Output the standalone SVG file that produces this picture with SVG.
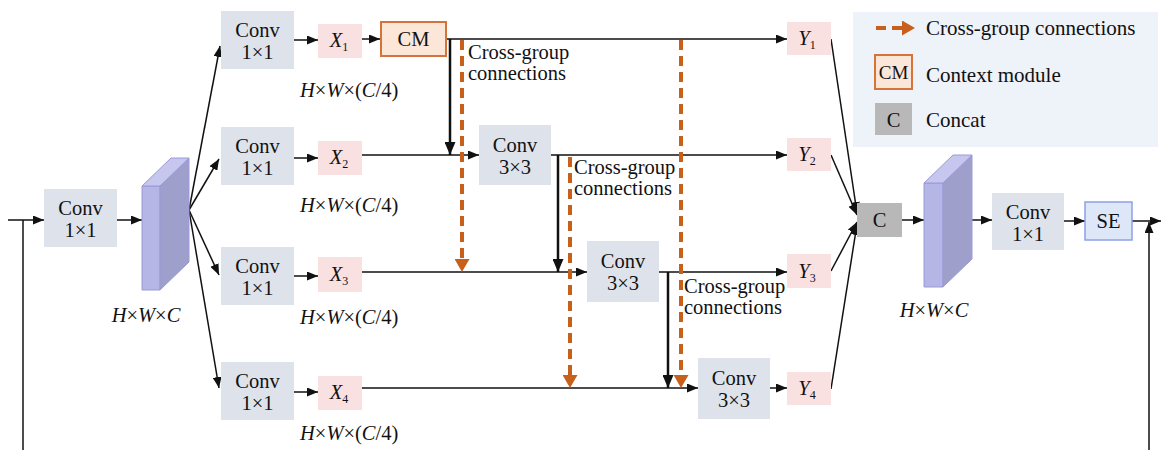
<svg xmlns="http://www.w3.org/2000/svg" width="1161" height="450" viewBox="0 0 1161 450">
<style>
.t{font-family:"Liberation Serif",serif;font-size:20.5px;fill:#111;}
.lg{font-size:21px;}
.c{text-anchor:middle;}
.conv{fill:#dee3eb;}
.pk{fill:#fae1e1;}
.cm{fill:#fce6d8;stroke:#d4743a;stroke-width:2;}
.cc{fill:#b8b8b8;}
.se{fill:#dde7f8;stroke:#8fa0e6;stroke-width:1.5;}
.ln{stroke:#111;stroke-width:1.5;fill:none;marker-end:url(#ah);}
.lnp{stroke:#111;stroke-width:1.5;fill:none;}
.lb{stroke:#111;stroke-width:2.5;fill:none;marker-end:url(#ahb);}
.od{stroke:#c8601c;stroke-width:4;stroke-dasharray:10 6;fill:none;marker-end:url(#oh);}
.sf{fill:#b5b5e6;stroke:#9a9ad8;stroke-width:1;}
.ss{fill:#9f9fcb;stroke:#9a9ad8;stroke-width:1;}
.st{fill:#c6c6ee;stroke:#9a9ad8;stroke-width:1;}
.i{font-style:italic;}
.sub{font-size:12px;}
</style>
<defs>
<marker id="ah" markerUnits="userSpaceOnUse" markerWidth="11" markerHeight="9" refX="11" refY="4.5" orient="auto"><path d="M0,0 L11,4.5 L0,9 z" fill="#111"/></marker>
<marker id="ahb" markerUnits="userSpaceOnUse" markerWidth="13" markerHeight="11" refX="13" refY="5.5" orient="auto"><path d="M0,0 L13,5.5 L0,11 z" fill="#111"/></marker>
<marker id="oh" markerUnits="userSpaceOnUse" markerWidth="13" markerHeight="15" refX="0" refY="7.5" orient="auto"><path d="M0,0 L13,7.5 L0,15 z" fill="#c8601c"/></marker>
</defs>
<rect width="1161" height="450" fill="#fff"/>

<g id="legend">
<rect x="853" y="12" width="305" height="135" fill="#eef2f9"/>
<line x1="876" y1="28" x2="902" y2="28" class="od" stroke-dasharray="9 6"/>
<text x="926" y="35" class="t lg">Cross-group connections</text>
<rect x="875" y="55" width="37" height="34" class="cm"/>
<text x="893.5" y="79" class="t c" style="font-size:19px">CM</text>
<text x="926" y="82" class="t lg">Context module</text>
<rect x="875" y="103" width="37" height="32" class="cc"/>
<text x="893.5" y="127" class="t c">C</text>
<text x="926" y="127" class="t lg">Concat</text>
</g>

<g id="connectors">
<line x1="8" y1="220" x2="44" y2="220" class="ln"/>
<line x1="23" y1="220" x2="23" y2="450" class="lnp"/>
<line x1="117" y1="220" x2="142" y2="220" class="ln"/>
<line x1="189" y1="210" x2="220" y2="46" class="ln"/>
<line x1="189" y1="210" x2="219" y2="159" class="ln"/>
<line x1="189" y1="210" x2="219" y2="275" class="ln"/>
<line x1="189" y1="210" x2="219" y2="388" class="ln"/>
<line x1="294" y1="40" x2="318" y2="40" class="ln"/>
<line x1="294" y1="158" x2="318" y2="158" class="ln"/>
<line x1="294" y1="276" x2="318" y2="276" class="ln"/>
<line x1="294" y1="392" x2="318" y2="392" class="ln"/>
<line x1="362" y1="39" x2="380" y2="39" class="ln"/>
<line x1="446" y1="39" x2="787" y2="39" class="ln"/>
<line x1="361" y1="155" x2="479" y2="155" class="ln"/>
<line x1="551" y1="155" x2="787" y2="155" class="ln"/>
<line x1="361" y1="272" x2="587" y2="272" class="ln"/>
<line x1="659" y1="272" x2="787" y2="272" class="ln"/>
<line x1="361" y1="388" x2="698" y2="388" class="ln"/>
<line x1="770" y1="388" x2="787" y2="388" class="ln"/>
<line x1="450" y1="39" x2="450" y2="155" class="lb"/>
<line x1="558" y1="155" x2="558" y2="272" class="lb"/>
<line x1="668" y1="272" x2="668" y2="388" class="lb"/>
<line x1="462" y1="40" x2="462" y2="259" class="od"/>
<line x1="681" y1="40" x2="681" y2="375" class="od"/>
<line x1="570" y1="157" x2="570" y2="375" class="od"/>
<line x1="831" y1="39" x2="857" y2="213" class="ln"/>
<line x1="831" y1="155" x2="857" y2="215" class="ln"/>
<line x1="831" y1="271" x2="857" y2="222" class="ln"/>
<line x1="831" y1="389" x2="857" y2="224" class="ln"/>
<line x1="902" y1="220" x2="924" y2="220" class="ln"/>
<line x1="972" y1="220" x2="992" y2="220" class="ln"/>
<line x1="1064" y1="221" x2="1085" y2="221" class="ln"/>
<line x1="1132" y1="221" x2="1161" y2="221" class="ln"/>
<line x1="1149" y1="450" x2="1149" y2="222" class="ln"/>
</g>

<g id="conv_in">
<rect x="44" y="189" width="73" height="58" class="conv"/>
<text x="80.5" y="215" class="t c">Conv</text>
<text x="80.5" y="237" class="t c">1×1</text>
</g>

<g id="feature_in">
<polygon points="142,186 160,186 160,290 142,290" class="sf"/>
<polygon points="160,186 189,158 189,262 160,290" class="ss"/>
<polygon points="142,186 171,158 189,158 160,186" class="st"/>
<text x="146" y="322" class="t c"><tspan class="i">H</tspan>×<tspan class="i">W</tspan>×<tspan class="i">C</tspan></text>
</g>

<g id="conv1">
<rect x="221" y="11" width="73" height="58" class="conv"/>
<text x="257.5" y="37" class="t c">Conv</text>
<text x="257.5" y="59" class="t c">1×1</text>
</g>
<g id="conv2">
<rect x="221" y="127" width="73" height="58" class="conv"/>
<text x="257.5" y="153" class="t c">Conv</text>
<text x="257.5" y="175" class="t c">1×1</text>
</g>
<g id="conv3">
<rect x="221" y="247" width="73" height="58" class="conv"/>
<text x="257.5" y="273" class="t c">Conv</text>
<text x="257.5" y="295" class="t c">1×1</text>
</g>
<g id="conv4">
<rect x="221" y="362" width="73" height="58" class="conv"/>
<text x="257.5" y="388" class="t c">Conv</text>
<text x="257.5" y="410" class="t c">1×1</text>
</g>

<g id="x1">
<rect x="318" y="24" width="44" height="34" class="pk"/>
<text x="339" y="47" class="t c"><tspan class="i">X</tspan><tspan class="sub" dy="4">1</tspan></text>
<text x="300" y="97" class="t"><tspan class="i">H</tspan>×<tspan class="i">W</tspan>×(<tspan class="i">C</tspan>/4)</text>
</g>
<g id="x2">
<rect x="318" y="141" width="44" height="34" class="pk"/>
<text x="339" y="164" class="t c"><tspan class="i">X</tspan><tspan class="sub" dy="4">2</tspan></text>
<text x="300" y="212" class="t"><tspan class="i">H</tspan>×<tspan class="i">W</tspan>×(<tspan class="i">C</tspan>/4)</text>
</g>
<g id="x3">
<rect x="318" y="257" width="44" height="35" class="pk"/>
<text x="339" y="281" class="t c"><tspan class="i">X</tspan><tspan class="sub" dy="4">3</tspan></text>
<text x="300" y="324" class="t"><tspan class="i">H</tspan>×<tspan class="i">W</tspan>×(<tspan class="i">C</tspan>/4)</text>
</g>
<g id="x4">
<rect x="318" y="376" width="44" height="34" class="pk"/>
<text x="339" y="399" class="t c"><tspan class="i">X</tspan><tspan class="sub" dy="4">4</tspan></text>
<text x="300" y="440" class="t"><tspan class="i">H</tspan>×<tspan class="i">W</tspan>×(<tspan class="i">C</tspan>/4)</text>
</g>

<g id="cm">
<rect x="381" y="22" width="65" height="34" class="cm"/>
<text x="413.5" y="46" class="t c">CM</text>
</g>

<g id="conv33_2">
<rect x="479" y="125" width="72" height="60" class="conv"/>
<text x="515" y="152" class="t c">Conv</text>
<text x="515" y="174" class="t c">3×3</text>
</g>
<g id="conv33_3">
<rect x="587" y="241" width="72" height="61" class="conv"/>
<text x="623" y="268" class="t c">Conv</text>
<text x="623" y="290" class="t c">3×3</text>
</g>
<g id="conv33_4">
<rect x="698" y="358" width="72" height="61" class="conv"/>
<text x="734" y="385" class="t c">Conv</text>
<text x="734" y="407" class="t c">3×3</text>
</g>

<g id="labels_cross">
<text x="468" y="59" class="t">Cross-group</text>
<text x="468" y="80" class="t">connections</text>
<text x="574" y="174" class="t">Cross-group</text>
<text x="574" y="195" class="t">connections</text>
<text x="684" y="293" class="t">Cross-group</text>
<text x="684" y="314" class="t">connections</text>
</g>

<g id="y1">
<rect x="787" y="22" width="44" height="33" class="pk"/>
<text x="807" y="45" class="t c"><tspan class="i">Y</tspan><tspan class="sub" dy="4">1</tspan></text>
</g>
<g id="y2">
<rect x="787" y="138" width="44" height="33" class="pk"/>
<text x="807" y="161" class="t c"><tspan class="i">Y</tspan><tspan class="sub" dy="4">2</tspan></text>
</g>
<g id="y3">
<rect x="787" y="254" width="44" height="34" class="pk"/>
<text x="807" y="278" class="t c"><tspan class="i">Y</tspan><tspan class="sub" dy="4">3</tspan></text>
</g>
<g id="y4">
<rect x="787" y="372" width="44" height="33" class="pk"/>
<text x="807" y="395" class="t c"><tspan class="i">Y</tspan><tspan class="sub" dy="4">4</tspan></text>
</g>

<g id="concat">
<rect x="857" y="203" width="45" height="34" class="cc"/>
<text x="879.5" y="227" class="t c">C</text>
</g>

<g id="feature_out">
<polygon points="924,183 943,183 943,287 924,287" class="sf"/>
<polygon points="943,183 972,155 972,259 943,287" class="ss"/>
<polygon points="924,183 953,155 972,155 943,183" class="st"/>
<text x="934" y="317" class="t c"><tspan class="i">H</tspan>×<tspan class="i">W</tspan>×<tspan class="i">C</tspan></text>
</g>

<g id="conv_out">
<rect x="992" y="193" width="72" height="57" class="conv"/>
<text x="1028" y="219" class="t c">Conv</text>
<text x="1028" y="241" class="t c">1×1</text>
</g>

<g id="se">
<rect x="1085" y="202" width="47" height="38" class="se"/>
<text x="1108.5" y="228" class="t c">SE</text>
</g>
</svg>
